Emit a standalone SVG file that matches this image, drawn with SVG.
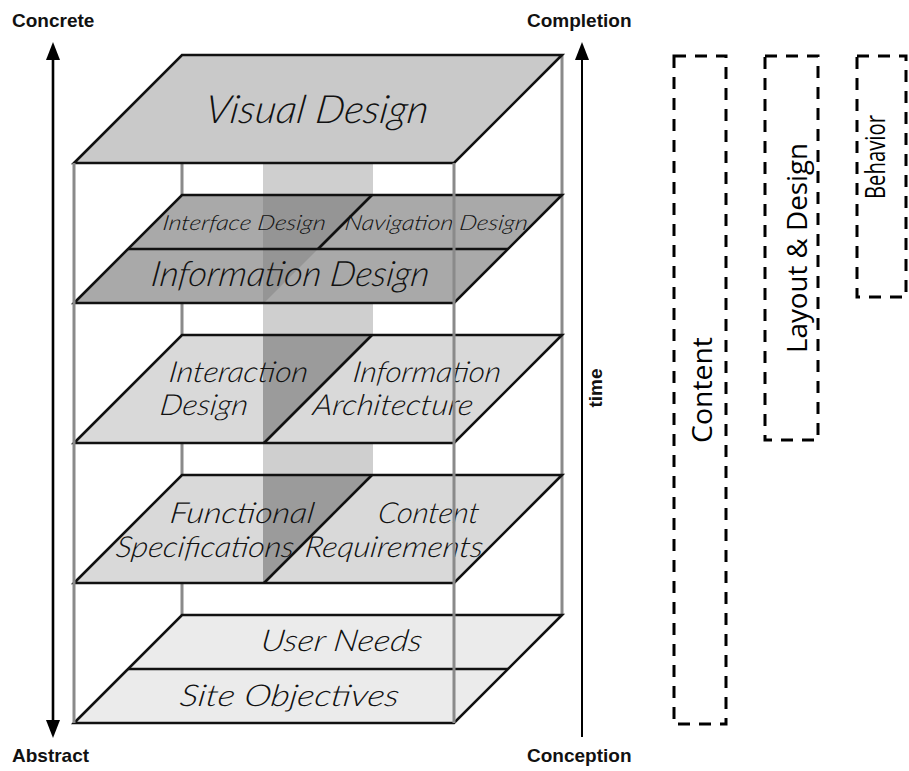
<svg xmlns="http://www.w3.org/2000/svg" width="909" height="771" viewBox="0 0 909 771">
  <defs>
    <style>
      .edge { stroke: #111; stroke-width: 2.6; stroke-linejoin: miter; }
      .frame { stroke: #8a8a8a; stroke-width: 3; fill: none; }
      .lbl { font-family: Lato, "Open Sans", "Liberation Sans", sans-serif; font-style: italic; font-weight: 300; fill: #111; }
      .axis { font-family: "Liberation Sans", Arial, sans-serif; font-weight: bold; font-size: 19px; fill: #111; }
      .box { fill: none; stroke: #000; stroke-width: 3; stroke-dasharray: 12 9; }
      .boxlbl { font-family: "Open Sans", "Noto Sans", sans-serif; font-size: 27px; fill: #000; }
      .axisline { stroke: #000; fill: none; }
    </style>
  </defs>

  <rect width="909" height="771" fill="#fff"/>

  <!-- vertical wall band seen between the layers -->
  <rect x="263" y="163" width="110" height="312" fill="#cfcfcf"/>

  <!-- rear posts of the frame -->
  <g id="frame-back">
    <line class="frame" x1="182" y1="163" x2="182" y2="615"/>
    <line class="frame" x1="562" y1="55" x2="562" y2="615"/>
  </g>

  <!-- top plane -->
  <g id="visual-design">
    <polygon class="edge" points="182,55 562,55 454,163 74,163" fill="#c9c9c9"/>
    <text class="lbl" transform="translate(204,123) skewX(-8)" font-size="39" textLength="223" lengthAdjust="spacingAndGlyphs">Visual Design</text>
  </g>

  <!-- interface / navigation / information design layer -->
  <g id="information-design">
    <polygon points="182,195 562,195 454,303 74,303" fill="#a9a9a9"/>
    <polygon points="263,195 372,195 263,304" fill="#959595"/>
    <polygon class="edge" points="182,195 562,195 454,303 74,303" fill="none"/>
    <line class="edge" x1="128" y1="249" x2="508" y2="249"/>
    <line class="edge" x1="372" y1="195" x2="318" y2="249"/>
    <text class="lbl" transform="translate(162,230) skewX(-8)" font-size="21" textLength="163" lengthAdjust="spacingAndGlyphs">Interface Design</text>
    <text class="lbl" transform="translate(344,230) skewX(-8)" font-size="21" textLength="183" lengthAdjust="spacingAndGlyphs">Navigation Design</text>
    <text class="lbl" transform="translate(150,286) skewX(-8)" font-size="35" textLength="278" lengthAdjust="spacingAndGlyphs">Information Design</text>
  </g>

  <!-- interaction design / information architecture layer -->
  <g id="interaction-architecture">
    <polygon points="182,335 562,335 454,443 74,443" fill="#d9d9d9"/>
    <polygon points="263,335 372,335 264,443 263,443" fill="#9b9b9b"/>
    <polygon class="edge" points="182,335 562,335 454,443 74,443" fill="none"/>
    <line class="edge" x1="372" y1="335" x2="264" y2="443"/>
    <text class="lbl" transform="translate(168,382) skewX(-8)" font-size="29" textLength="139" lengthAdjust="spacingAndGlyphs">Interaction</text>
    <text class="lbl" transform="translate(159,415) skewX(-8)" font-size="29" textLength="88" lengthAdjust="spacingAndGlyphs">Design</text>
    <text class="lbl" transform="translate(352,382) skewX(-8)" font-size="29" textLength="148" lengthAdjust="spacingAndGlyphs">Information</text>
    <text class="lbl" transform="translate(312,415) skewX(-8)" font-size="29" textLength="160" lengthAdjust="spacingAndGlyphs">Architecture</text>
  </g>

  <!-- functional specifications / content requirements layer -->
  <g id="specifications-requirements">
    <polygon points="182,475 562,475 454,583 74,583" fill="#d9d9d9"/>
    <polygon points="263,475 372,475 264,583 263,583" fill="#9b9b9b"/>
    <polygon class="edge" points="182,475 562,475 454,583 74,583" fill="none"/>
    <line class="edge" x1="372" y1="475" x2="264" y2="583"/>
    <text class="lbl" transform="translate(169,523) skewX(-8)" font-size="29" textLength="144" lengthAdjust="spacingAndGlyphs">Functional</text>
    <text class="lbl" transform="translate(115,557) skewX(-8)" font-size="29" textLength="178" lengthAdjust="spacingAndGlyphs">Specifications</text>
    <text class="lbl" transform="translate(377,523) skewX(-8)" font-size="29" textLength="101" lengthAdjust="spacingAndGlyphs">Content</text>
    <text class="lbl" transform="translate(304,557) skewX(-8)" font-size="29" textLength="178" lengthAdjust="spacingAndGlyphs">Requirements</text>
  </g>

  <!-- user needs / site objectives layer -->
  <g id="needs-objectives">
    <polygon class="edge" points="182,615 562,615 454,723 74,723" fill="#ebebeb"/>
    <line class="edge" x1="128" y1="669" x2="508" y2="669"/>
    <text class="lbl" transform="translate(260,651) skewX(-8)" font-size="30" textLength="161" lengthAdjust="spacingAndGlyphs">User Needs</text>
    <text class="lbl" transform="translate(179,706) skewX(-8)" font-size="30" textLength="219" lengthAdjust="spacingAndGlyphs">Site Objectives</text>
  </g>

  <!-- front posts of the frame -->
  <g id="frame-front">
    <line class="frame" x1="74" y1="163" x2="74" y2="723"/>
    <line class="frame" x1="454" y1="163" x2="454" y2="723"/>
  </g>

  <!-- axes -->
  <g id="connectors">
    <line class="axisline" stroke-width="2.6" x1="53" y1="56" x2="53" y2="724"/>
    <polygon points="53,42 46,60 60,60" fill="#000"/>
    <polygon points="53,738 46,720 60,720" fill="#000"/>
    <line class="axisline" stroke-width="2" x1="582" y1="56" x2="582" y2="737"/>
    <polygon points="582,42 575,60 589,60" fill="#000"/>
  </g>

  <g id="axis-labels">
    <text class="axis" x="12" y="27">Concrete</text>
    <text class="axis" x="527" y="27">Completion</text>
    <text class="axis" x="12" y="762">Abstract</text>
    <text class="axis" x="527" y="762">Conception</text>
    <text class="axis" transform="translate(602,388) rotate(-90)" text-anchor="middle" font-size="18">time</text>
  </g>

  <!-- grouping brackets on the right -->
  <g id="content">
    <rect class="box" x="674" y="56" width="52" height="668"/>
    <text class="boxlbl" transform="translate(712,390) rotate(-90)" text-anchor="middle" textLength="106" lengthAdjust="spacingAndGlyphs">Content</text>
  </g>
  <g id="layout-design">
    <rect class="box" x="765" y="56" width="53" height="384"/>
    <text class="boxlbl" transform="translate(807,248) rotate(-90)" text-anchor="middle" textLength="210" lengthAdjust="spacingAndGlyphs">Layout &amp; Design</text>
  </g>
  <g id="behavior">
    <rect class="box" x="857" y="56" width="49" height="241"/>
    <text class="boxlbl" transform="translate(885,157) rotate(-90)" text-anchor="middle" font-size="25" textLength="84" lengthAdjust="spacingAndGlyphs">Behavior</text>
  </g>
</svg>
